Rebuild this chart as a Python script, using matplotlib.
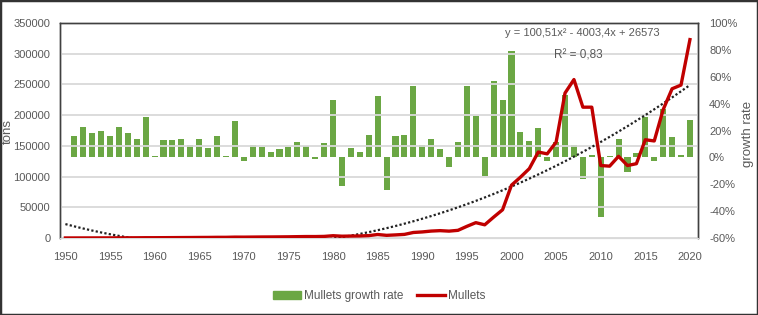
import numpy as np
import matplotlib
matplotlib.use('Agg')
import matplotlib.pyplot as plt
from matplotlib.patches import Rectangle, Patch
from matplotlib.lines import Line2D

plt.rcParams['font.family'] = ['Liberation Sans Narrow', 'Liberation Sans', 'DejaVu Sans']

# Mullets production (tons), 1950-2020
years = list(range(1950, 2021))
mullets = [100, 115, 140, 165, 200, 230, 285, 335, 385, 500,
           505, 570, 645, 735, 800, 910, 975, 1130, 1145, 1450,
           1410, 1540, 1660, 1720, 1830, 1970, 2200, 2390, 2370, 2620,
           3750, 2950, 3200, 3350, 3900, 5700, 4350, 5050, 5900, 9000,
           9900, 11300, 12000, 11200, 12500, 19000, 25000, 21500, 34000, 46000,
           86000, 99000, 113000, 140000, 137000, 156000, 236000, 258000, 213000, 213000,
           118000, 117000, 133000, 118000, 121000, 160000, 158000, 209000, 243000, 249000,
           323000]

# growth rate (%), 1951-2020
growth_years = list(range(1951, 2021))
growth = [16, 22.5, 18.5, 19.5, 16, 22.5, 18.5, 14, 30,
          1, 13, 13, 14, 9, 14, 7, 16, 1, 27,
          -3, 9.3, 7.6, 3.9, 6.1, 7.6, 11.8, 8.6, -1, 10.6,
          43, -21, 7.3, 4.3, 17, 46, -24, 16, 17, 53,
          9.3, 14, 6.3, -7, 11.8, 53, 31, -14, 57, 43,
          79, 19, 12.5, 21.7, -3, 11.8, 46.5, 9.3, -16, 2,
          -44, 1, 14, -10.5, 3.6, 30, -3, 36, 15.5, 2,
          28]

# polynomial trendline shown on the chart: y = 100,51x^2 - 4003,4x + 26573
trend_coef = [100.51, -4003.4, 26573]

fig = plt.figure(figsize=(7.58, 3.15), dpi=100)
ax = fig.add_axes([0.0792, 0.2444, 0.8416, 0.6825])
ax2 = ax.twinx()

green = '#6BA744'
red = '#C00000'
gray = '#595959'

ax2.bar(growth_years, np.array(growth) / 100, width=0.68, color=green, zorder=2)
ax2.set_ylim(-0.6, 1.0)
ax2.set_yticks(np.arange(-0.6, 1.01, 0.2))
ax2.set_yticklabels([f'{v:.0f}%' for v in np.arange(-60, 101, 20)])

ax.set_zorder(ax2.get_zorder() + 1)
ax.patch.set_visible(False)

ax.plot(years, mullets, color=red, lw=2.4, zorder=4)
t = np.arange(1, len(years) + 1)
ax.plot(years, np.polyval(trend_coef, t), color='#222222', lw=1.6,
        linestyle=(0, (1, 1)), zorder=3)

ax.set_ylim(0, 350000)
ax.set_yticks(range(0, 350001, 50000))
ax.set_xlim(1949.4, 2020.9)
ax.set_xticks(range(1950, 2021, 5))
ax.grid(axis='y', color='#D9D9D9', lw=1.3, zorder=0)
ax.set_axisbelow(True)

for a in (ax, ax2):
    a.tick_params(length=0, colors=gray, labelsize=8)
    a.spines['bottom'].set_color('#D9D9D9')
    for s in ('left', 'top', 'right'):
        a.spines[s].set_color('#404040')
        a.spines[s].set_linewidth(1.0)
ax.tick_params(axis='y', pad=7)
ax.tick_params(axis='x', pad=10)
ax2.tick_params(axis='y', pad=8)

fig.text(8 / 758, 1 - 131 / 315, 'tons', rotation=90, ha='center', va='center',
         color=gray, fontsize=9.5)
fig.text(748 / 758, 1 - 134 / 315, 'growth rate', rotation=90, ha='center',
         va='center', color=gray, fontsize=9.5)

ax.text(0.818, 0.955, 'y = 100,51x² - 4003,4x + 26573', transform=ax.transAxes,
        ha='center', va='center', fontsize=8, color=gray)
ax.text(0.812, 0.85, 'R² = 0,83', transform=ax.transAxes,
        ha='center', va='center', fontsize=8.5, color=gray)

handles = [Patch(color=green), Line2D([], [], color=red, lw=2.4)]
fig.legend(handles, ['Mullets growth rate', 'Mullets'], loc='center',
           bbox_to_anchor=(0.5, 0.06), ncol=2, frameon=False, fontsize=8.5,
           handlelength=2.4, handletextpad=0.2, columnspacing=1.2,
           labelcolor=gray)

fig.patches.append(Rectangle((0, 0), 1, 1, transform=fig.transFigure, fill=False,
                             ec='#333333', lw=2.5))

fig.savefig('out.png', dpi=100)
